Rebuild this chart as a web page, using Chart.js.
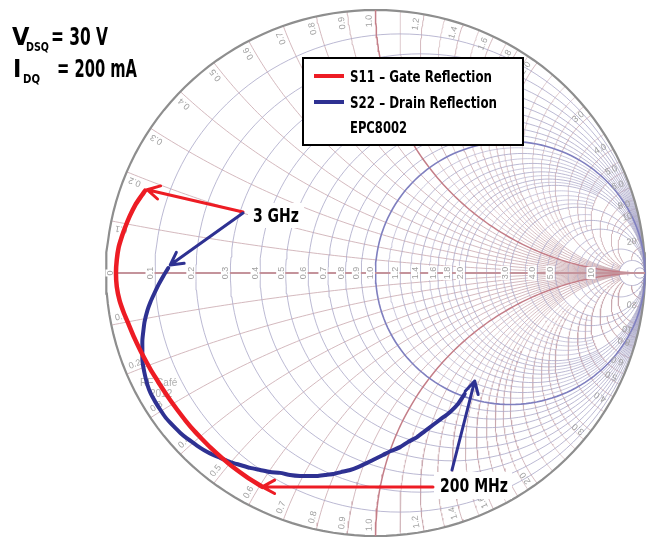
<!DOCTYPE html>
<html>
<head>
<meta charset="utf-8">
<script src="https://cdn.jsdelivr.net/npm/chart.js@4.4.1/dist/chart.umd.min.js"></script>
<style>
    body { margin: 0; background: #fff; }
    #wrap { width: 647px; height: 542px; }
</style>
</head>
<body>
<div id="wrap"><canvas id="smith" width="647" height="542"></canvas></div>
<script>
// S-parameters as reflection coefficient (real / imag), 200 MHz -> 3 GHz
var s11Re = [-0.420, -0.476, -0.529, -0.572, -0.613, -0.643, -0.672, -0.705, -0.735, -0.762, -0.787, -0.811, -0.834, -0.854, -0.873, -0.896, -0.918, -0.935, -0.950, -0.960, -0.963, -0.960, -0.953, -0.942, -0.930, -0.912, -0.891, -0.873, -0.855];
var s11Im = [-0.813, -0.777, -0.738, -0.701, -0.663, -0.632, -0.601, -0.561, -0.521, -0.483, -0.445, -0.406, -0.368, -0.331, -0.294, -0.244, -0.190, -0.148, -0.103, -0.052, 0.000, 0.050, 0.098, 0.136, 0.171, 0.216, 0.259, 0.287, 0.313];

var s22Re = [0.331, 0.306, 0.276, 0.243, 0.213, 0.183, 0.154, 0.120, 0.091, 0.057, 0.028, -0.002, -0.031, -0.065, -0.094, -0.128, -0.157, -0.187, -0.217, -0.250, -0.280, -0.317, -0.354, -0.391, -0.428, -0.465, -0.502, -0.539, -0.576, -0.602, -0.624, -0.650, -0.676, -0.702, -0.724, -0.743, -0.761, -0.780, -0.798, -0.817, -0.835, -0.846, -0.854, -0.861, -0.865, -0.865, -0.865, -0.861, -0.857, -0.846, -0.835, -0.820, -0.806, -0.787, -0.769];
var s22Im = [-0.460, -0.498, -0.529, -0.555, -0.578, -0.601, -0.624, -0.643, -0.662, -0.677, -0.692, -0.707, -0.722, -0.738, -0.749, -0.757, -0.764, -0.768, -0.772, -0.772, -0.772, -0.768, -0.760, -0.757, -0.749, -0.741, -0.730, -0.719, -0.703, -0.692, -0.681, -0.665, -0.646, -0.627, -0.608, -0.589, -0.570, -0.548, -0.521, -0.490, -0.456, -0.426, -0.395, -0.361, -0.331, -0.293, -0.255, -0.217, -0.186, -0.141, -0.110, -0.076, -0.046, -0.011, 0.019];

// Smith chart grid values (normalized impedance)
var resistanceMajor = [0.1, 0.2, 0.3, 0.4, 0.5, 0.6, 0.7, 0.8, 0.9, 1.2, 1.4, 1.6, 1.8, 2.0, 3.0, 4.0, 5.0, 10, 20, 50];
var resistanceMinor = [1.1, 1.3, 1.5, 1.7, 1.9, 2.2, 2.4, 2.6, 2.8, 3.5, 4.5, 6, 7, 8, 9, 15, 30];
var reactanceMajor = [0.1, 0.2, 0.3, 0.4, 0.5, 0.6, 0.7, 0.8, 0.9, 1.2, 1.4, 1.6, 1.8, 2.0, 3.0, 4.0, 5.0, 6.0, 8.0, 10, 20, 50];
var reactanceMinor = [1.1, 1.3, 1.5, 1.7, 1.9, 2.2, 2.4, 2.6, 2.8, 3.5, 4.5, 7, 9, 15, 30];

// tick labels
var axisLabels = [0, 0.1, 0.2, 0.3, 0.4, 0.5, 0.6, 0.7, 0.8, 0.9, 1.0, 1.2, 1.4, 1.6, 1.8, 2.0, 3.0, 4.0, 5.0, 10];
var rimLabels = [0.1, 0.2, 0.3, 0.4, 0.5, 0.6, 0.7, 0.8, 0.9, 1.0, 1.2, 1.4, 1.6, 1.8, 2.0, 3.0, 4.0, 5.0, 6.0, 8.0, 10, 20];

var condFont = "'Liberation Sans Narrow', 'DejaVu Sans Condensed', 'Roboto', sans-serif";
var redColor = '#ed1c24';
var blueColor = '#2e3192';

/******************************************************/
// helpers: impedance -> reflection coefficient
function gamma(r, x) {
    var d = (r + 1) * (r + 1) + x * x;
    return { x: (r * r + x * x - 1) / d, y: 2 * x / d };
}

function resistanceCircle(r, xMax) {
    var pts = [];
    var lim = Math.atan(xMax / (r + 1));
    for (var i = 0; i <= 160; i++) {
        var psi = -lim + 2 * lim * i / 160;
        pts.push(gamma(r, (r + 1) * Math.tan(psi)));
    }
    return pts;
}

function reactanceArc(x, rMax) {
    var ax = Math.abs(x), pts = [];
    var a0 = Math.atan(ax / (rMax + 1)), a1 = Math.atan(ax);
    for (var i = 0; i <= 120; i++) {
        var psi = a0 + (a1 - a0) * i / 120;
        var r = ax / Math.tan(psi) - 1;
        if (r < 0) r = 0;
        pts.push(gamma(r, x));
    }
    return pts;
}

function toPoints(re, im) {
    return re.map(function (v, i) { return { x: v, y: im[i] }; });
}

function fmt(v) {
    if (v === 0) return '0';
    return v < 10 ? v.toFixed(1) : String(v);
}

function gridLine(pts, color, width) {
    return { data: pts, borderColor: color, borderWidth: width, showLine: true, pointRadius: 0, fill: false, tension: 0 };
}

/******************************************************/
// datasets: index 0 is drawn on top
var datasets = [];
datasets.push({ label: 'S11 – Gate Reflection', data: toPoints(s11Re, s11Im), borderColor: redColor, borderWidth: 4.5,
    showLine: true, pointRadius: 0, tension: 0.2, borderCapStyle: 'round', borderJoinStyle: 'round' });
datasets.push({ label: 'S22 – Drain Reflection', data: toPoints(s22Re, s22Im), borderColor: blueColor, borderWidth: 4,
    showLine: true, pointRadius: 0, tension: 0.2, borderCapStyle: 'round', borderJoinStyle: 'round' });
// real axis
datasets.push(gridLine([{ x: -1, y: 0 }, { x: 1, y: 0 }], '#c4939b', 2));
// highlighted r = 1 and x = +-1
datasets.push(gridLine(resistanceCircle(1, Infinity), '#7f7fbf', 1.6));
datasets.push(gridLine(reactanceArc(1, 1e4), '#c47e88', 1.5));
datasets.push(gridLine(reactanceArc(-1, 1e4), '#c47e88', 1.5));
// outer rim
datasets.push(gridLine(resistanceCircle(0, Infinity), '#8e8e8e', 2.2));

resistanceMajor.forEach(function (r) {
    datasets.push(gridLine(resistanceCircle(r, Infinity), '#aaa7c8', 0.8));
});
resistanceMinor.forEach(function (r) {
    datasets.push(gridLine(resistanceCircle(r, 5), '#b4b2d0', 0.7));
});
reactanceMajor.forEach(function (x) {
    datasets.push(gridLine(reactanceArc(x, 20), '#c9a7ad', 0.8));
    datasets.push(gridLine(reactanceArc(-x, 20), '#c9a7ad', 0.8));
});
reactanceMinor.forEach(function (x) {
    datasets.push(gridLine(reactanceArc(x, 5), '#d1b4b9', 0.7));
    datasets.push(gridLine(reactanceArc(-x, 5), '#d1b4b9', 0.7));
});

/******************************************************/
// grid labels, drawn after the grid but under the traces
var gridLabels = {
    id: 'gridLabels',
    afterDatasetDraw: function (chart, args) {
        if (args.index !== 2) return;
        var ctx = chart.ctx, xs = chart.scales.x, ys = chart.scales.y;
        ctx.save();
        ctx.font = "9px 'Liberation Sans', Arial, sans-serif";
        ctx.textAlign = 'center';
        ctx.textBaseline = 'middle';

        // resistance labels on the real axis
        axisLabels.forEach(function (r) {
            var g = gamma(r, 0);
            var px = xs.getPixelForValue(g.x) - 5;
            if (r === 0) px = xs.getPixelForValue(-1) + 4;
            var py = ys.getPixelForValue(0);
            var txt = fmt(r);
            var w = ctx.measureText(txt).width;
            ctx.save();
            ctx.translate(px, py);
            ctx.rotate(-Math.PI / 2);
            ctx.fillStyle = '#fff';
            ctx.fillRect(-w / 2 - 1, -4.5, w + 2, 9);
            ctx.fillStyle = '#a0a0a0';
            ctx.fillText(txt, 0, 0.5);
            ctx.restore();
        });

        // reactance labels round the rim
        rimLabels.forEach(function (x) {
            [x, -x].forEach(function (xv) {
                var g = gamma(0, xv);
                var th = Math.atan2(g.y, g.x) + (xv > 0 ? 0.024 : -0.024);
                var px = xs.getPixelForValue(0.958 * Math.cos(th));
                var py = ys.getPixelForValue(0.958 * Math.sin(th));
                var rot = xv > 0 ? -th : -th - Math.PI;
                ctx.save();
                ctx.translate(px, py);
                ctx.rotate(rot);
                ctx.fillStyle = '#a0a0a0';
                ctx.fillText(fmt(x), 0, 0);
                ctx.restore();
            });
        });

        // faint watermark
        ctx.textAlign = 'left';
        ctx.fillStyle = '#b0b0b0';
        ctx.font = "10px 'Liberation Sans', Arial, sans-serif";
        ctx.fillText('RF Café', 140, 383);
        ctx.fillText('2012', 150, 394);
        ctx.restore();
    }
};

/******************************************************/
// arrows, text and legend box
function drawArrow(ctx, x0, y0, x1, y1, color) {
    var ang = Math.atan2(y1 - y0, x1 - x0);
    ctx.save();
    ctx.strokeStyle = color;
    ctx.lineWidth = 3;
    ctx.lineCap = 'round';
    ctx.lineJoin = 'round';
    ctx.beginPath();
    ctx.moveTo(x0, y0);
    ctx.lineTo(x1, y1);
    ctx.moveTo(x1 - 14 * Math.cos(ang - 0.5), y1 - 14 * Math.sin(ang - 0.5));
    ctx.lineTo(x1, y1);
    ctx.lineTo(x1 - 14 * Math.cos(ang + 0.5), y1 - 14 * Math.sin(ang + 0.5));
    ctx.stroke();
    ctx.restore();
}

var annotations = {
    id: 'annotations',
    afterDraw: function (chart) {
        var ctx = chart.ctx, xs = chart.scales.x, ys = chart.scales.y;
        var n11 = s11Re.length - 1, n22 = s22Re.length - 1;
        var s11Top = [xs.getPixelForValue(s11Re[n11]), ys.getPixelForValue(s11Im[n11])];
        var s22Top = [xs.getPixelForValue(s22Re[n22]), ys.getPixelForValue(s22Im[n22])];
        var s11Low = [xs.getPixelForValue(s11Re[0]), ys.getPixelForValue(s11Im[0])];
        var s22Low = [xs.getPixelForValue(s22Re[0]), ys.getPixelForValue(s22Im[0])];

        ctx.save();
        // 3 GHz
        ctx.fillStyle = '#fff';
        ctx.fillRect(248, 203, 56, 25);
        drawArrow(ctx, 243, 212, s11Top[0] + 2, s11Top[1] - 1, redColor);
        drawArrow(ctx, 243, 213, s22Top[0] + 2, s22Top[1] - 3, blueColor);
        ctx.fillStyle = '#000';
        ctx.textBaseline = 'alphabetic';
        ctx.font = 'bold 19px ' + condFont;
        ctx.fillText('3 GHz', 253, 222, 46);

        // 200 MHz
        ctx.fillStyle = '#fff';
        ctx.fillRect(434, 472, 78, 27);
        drawArrow(ctx, 433, 487, s11Low[0], s11Low[1], redColor);
        drawArrow(ctx, 452, 470, s22Low[0] + 10, s22Low[1] - 13, blueColor);
        ctx.fillStyle = '#000';
        ctx.fillText('200 MHz', 440, 492, 68);

        // bias conditions
        ctx.font = 'bold 25px ' + condFont;
        ctx.fillText('V', 12, 45);
        ctx.fillText('= 30 V', 51, 45, 57);
        ctx.fillText('I', 13, 77);
        ctx.fillText('= 200 mA', 57, 77, 80);
        ctx.font = 'bold 13px ' + condFont;
        ctx.fillText('DSQ', 26, 51, 23);
        ctx.fillText('DQ', 23, 83, 17);

        // legend box
        ctx.fillStyle = '#fff';
        ctx.fillRect(303, 58, 220, 87);
        ctx.strokeStyle = '#000';
        ctx.lineWidth = 2;
        ctx.strokeRect(303, 58, 220, 87);
        ctx.lineWidth = 4;
        ctx.strokeStyle = redColor;
        ctx.beginPath(); ctx.moveTo(314, 76); ctx.lineTo(344, 76); ctx.stroke();
        ctx.strokeStyle = blueColor;
        ctx.beginPath(); ctx.moveTo(314, 102); ctx.lineTo(344, 102); ctx.stroke();
        ctx.fillStyle = '#000';
        ctx.font = 'bold 15px ' + condFont;
        ctx.fillText(chart.data.datasets[0].label, 350, 82, 142);
        ctx.fillText(chart.data.datasets[1].label, 350, 108, 147);
        ctx.fillText('EPC8002', 350, 133, 57);
        ctx.restore();
    }
};

/******************************************************/
// Smith chart
var ctx = document.getElementById('smith').getContext('2d');
var smithChart = new Chart(ctx, {
    type: 'scatter',
    data: { datasets: datasets },
    options: {
        responsive: false,
        animation: false,
        events: [],
        layout: { padding: { left: 106, right: 2, top: 10, bottom: 6 } },
        scales: {
            x: { type: 'linear', min: -1, max: 1, display: false },
            y: { type: 'linear', min: -1, max: 1, display: false }
        },
        plugins: {
            legend: { display: false },
            tooltip: { enabled: false }
        },
        datasets: { scatter: { clip: false } }
    },
    plugins: [gridLabels, annotations]
});
</script>
</body>
</html>
